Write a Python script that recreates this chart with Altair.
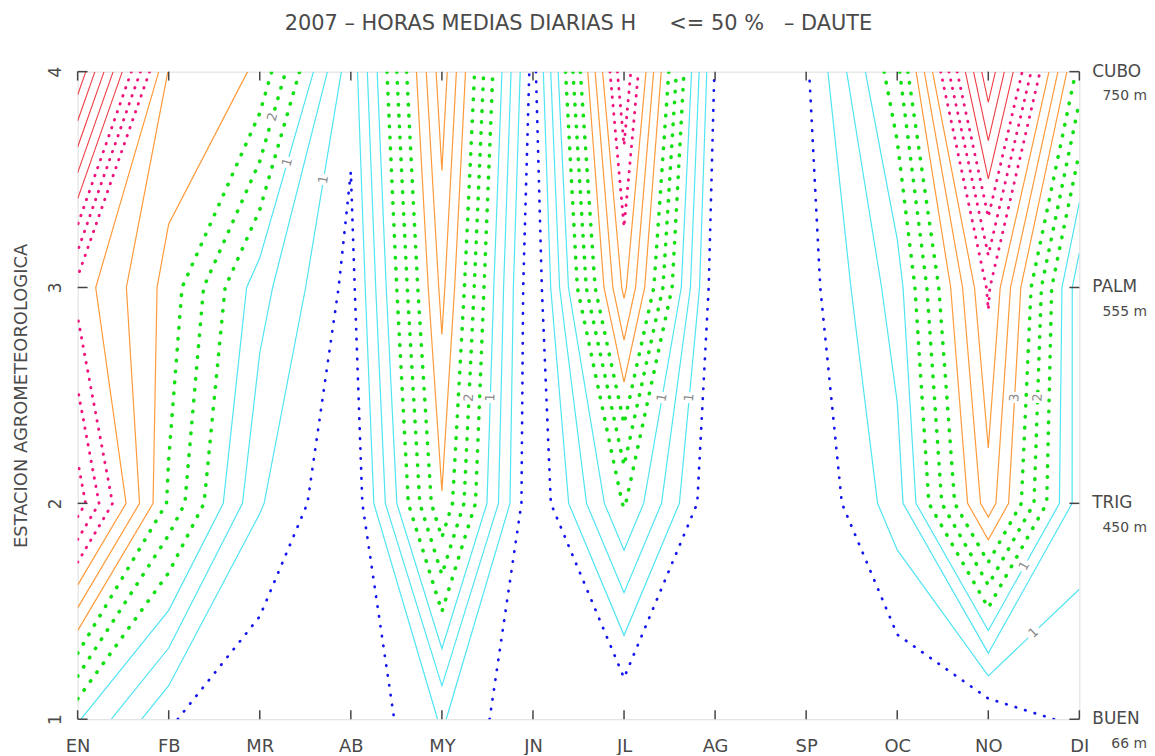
import math
import altair as alt
import pandas as pd

# ---------------- data ----------------
months = ["EN", "FB", "MR", "AB", "MY", "JN", "JL", "AG", "SP", "OC", "NO", "DI"]
stations = ["BUEN", "TRIG", "PALM", "CUBO"]
altitudes = ["66 m", "450 m", "555 m", "750 m"]

# mean daily hours with H <= 50 %, one list per station (rows y = 1..4), one value per month
h_buen = [1.37, 0.37, 0.00, 0.00, 0.70, 0.00, 0.01, 0.00, 0.00, 0.00, 0.03, 0.45]
h_trig = [4.53, 2.28, 0.70, 0.00, 2.64, 0.00, 1.70, 0.00, 0.00, 0.85, 3.20, 0.81]
h_palm = [3.53, 2.54, 1.13, 0.21, 3.10, 0.00, 3.42, 0.10, 0.18, 1.17, 3.72, 0.77]
h_cubo = [6.30, 2.97, 2.62, 0.44, 3.53, 0.20, 4.30, 0.30, 0.28, 1.90, 5.60, 2.20]

# contour levels: multiples of 1/3 hour
level_steps = list(range(1, 19))
level_interval = 1.0 / 3.0

# contour labels: (text, level step, y at which it sits, x near which it sits)
label_text = ["2", "1", "1", "2", "1", "1", "1", "3", "2", "1", "1"]
label_step = [6, 4, 2, 6, 4, 4, 2, 8, 6, 4, 2]
label_y = [3.79, 3.58, 3.50, 2.49, 2.49, 2.49, 2.49, 2.49, 2.49, 1.71, 1.40]
label_xnear = [3.13, 3.28, 3.67, 5.30, 5.52, 7.39, 7.71, 11.29, 11.54, 11.38, 11.51]

title_text = "2007 \u2013 HORAS MEDIAS DIARIAS H\u00a0\u00a0\u00a0\u00a0 <= 50 %\u00a0\u00a0 \u2013 DAUTE"

# ---------------- layout / style ----------------
W, H = 1007, 651
FONT = "DejaVu Sans, sans-serif"
TXT = "#4a4a4a"


def group_of(k):
    if k == 1:
        return "blue"
    if k <= 4:
        return "cyan"
    if k <= 7:
        return "green"
    if k <= 10:
        return "orange"
    if k <= 13:
        return "magenta"
    return "red"


styles = {
    "blue": dict(color="#1414ee", strokeWidth=2.7, strokeDash=[0.5, 9.5], strokeCap="round"),
    "cyan": dict(color="#4fe4f2", strokeWidth=1.2),
    "green": dict(color="#10e010", strokeWidth=3.6, strokeDash=[0.5, 10.5], strokeCap="round"),
    "orange": dict(color="#ff9a3a", strokeWidth=1.2),
    "magenta": dict(color="#f0157e", strokeWidth=2.9, strokeDash=[0.5, 8.0], strokeCap="round"),
    "red": dict(color="#ee3d44", strokeWidth=1.1),
}

# ---------------- contouring (marching squares, linear on edges) ----------------
Z = [h_buen, h_trig, h_palm, h_cubo]
NX, NY = len(months), len(stations)


def contour_segments(L):
    segs = []
    for j in range(NY - 1):
        for i in range(NX - 1):
            c = [(i, j), (i + 1, j), (i + 1, j + 1), (i, j + 1)]
            v = [Z[b][a] for a, b in c]
            ab = [val >= L for val in v]
            edges = [(0, 1, ("h", i, j)), (1, 2, ("v", i + 1, j)),
                     (3, 2, ("h", i, j + 1)), (0, 3, ("v", i, j))]
            crossed = {}
            for e, (a, b, key) in enumerate(edges):
                if ab[a] != ab[b]:
                    t = (L - v[a]) / (v[b] - v[a])
                    xa, ya = c[a]
                    xb, yb = c[b]
                    crossed[e] = (key, (xa + 1 + t * (xb - xa), ya + 1 + t * (yb - ya)))
            if len(crossed) == 2:
                e1, e2 = sorted(crossed)
                segs.append((crossed[e1], crossed[e2]))
            elif len(crossed) == 4:
                centre = (sum(v) / 4.0) >= L
                corner_edges = {0: (0, 3), 1: (0, 1), 2: (1, 2), 3: (2, 3)}
                for corner in range(4):
                    if ab[corner] != centre:
                        ea, eb = corner_edges[corner]
                        segs.append((crossed[ea], crossed[eb]))
    return segs


def chain(segs):
    adj, pts = {}, {}
    for idx, (s, e) in enumerate(segs):
        for key, p in (s, e):
            adj.setdefault(key, []).append(idx)
            pts[key] = p
    used = [False] * len(segs)

    def walk(start):
        line = [pts[start]]
        key = start
        while True:
            nxt = [s for s in adj[key] if not used[s]]
            if not nxt:
                break
            s = nxt[0]
            used[s] = True
            a, b = segs[s]
            other = b[0] if a[0] == key else a[0]
            line.append(pts[other])
            key = other
        return line

    lines = []
    for key in list(adj):
        if len(adj[key]) == 1 and not used[adj[key][0]]:
            lines.append(walk(key))
    for idx in range(len(segs)):
        if not used[idx]:
            lines.append(walk(segs[idx][0][0]))
    return lines


rows = []
lines_by_step = {}
for k in level_steps:
    L = k * level_interval
    lines = chain(contour_segments(L))
    lines_by_step[k] = lines
    for n, line in enumerate(lines):
        for o, (x, y) in enumerate(line):
            rows.append(dict(step=k, grp=group_of(k), lid=f"{k}_{n}", o=o, x=x, y=y))
lines_df = pd.DataFrame(rows)

# label positions: where the labelled contour crosses the given y
px_x = W / (NX - 1)
px_y = H / (NY - 1)
lab_rows = []
for txt, k, yv, xn in zip(label_text, label_step, label_y, label_xnear):
    best = None
    for line in lines_by_step[k]:
        for (x1, y1), (x2, y2) in zip(line[:-1], line[1:]):
            if (y1 - yv) * (y2 - yv) <= 0 and y1 != y2:
                t = (yv - y1) / (y2 - y1)
                xc = x1 + t * (x2 - x1)
                d = abs(xc - xn)
                if best is None or d < best[0]:
                    ang = math.degrees(math.atan2(-(y2 - y1) * px_y, (x2 - x1) * px_x))
                    if ang > 90:
                        ang -= 180
                    if ang <= -90:
                        ang += 180
                    best = (d, xc, ang % 360)
    if best is not None:
        lab_rows.append(dict(t=txt, x=best[1], y=yv, ang=best[2]))
labels_df = pd.DataFrame(lab_rows)

month_df = pd.DataFrame({"m": list(range(1, NX + 1)), "name": months})
station_df = pd.DataFrame({"s": list(range(1, NY + 1)), "name": stations, "alt": altitudes})
title_df = pd.DataFrame({"t": [title_text]})

xscale = alt.Scale(domain=[1, NX], nice=False, zero=False)
yscale = alt.Scale(domain=[1, NY], nice=False, zero=False)

month_expr = "[" + ",".join(f"'{m}'" for m in months) + "][datum.value - 1]"

x_axis = alt.Axis(values=list(range(1, NX + 1)), labelExpr=month_expr, ticks=False, domain=False,
                  grid=False, labelFontSize=18, labelFont=FONT, labelColor=TXT, labelPadding=18,
                  title=None, labelFlush=False)
y_axis = alt.Axis(values=list(range(1, NY + 1)), format="d", ticks=False, domain=False, grid=False,
                  labelFontSize=17, labelFont=FONT, labelColor=TXT, labelAngle=270,
                  labelAlign="center", labelBaseline="bottom", labelPadding=13, labelFlush=False,
                  title="ESTACION AGROMETEOROLOGICA", titleFont=FONT, titleFontSize=18,
                  titleFontWeight="normal", titleColor=TXT, titleAngle=270,
                  titleX=-56, titleY=H / 2, titleAlign="center", titleBaseline="middle")


def X(field):
    return alt.X(field, scale=xscale, axis=x_axis)


def Y(field):
    return alt.Y(field, scale=yscale, axis=y_axis)


layers = []
for g in ["blue", "cyan", "green", "orange", "magenta", "red"]:
    st = styles[g]
    mk = dict(color=st["color"], strokeWidth=st["strokeWidth"], clip=True)
    if "strokeDash" in st:
        mk["strokeDash"] = st["strokeDash"]
        mk["strokeCap"] = st["strokeCap"]
    lyr = alt.Chart(lines_df).transform_filter(alt.datum.grp == g).mark_line(**mk).encode(
        x=X("x:Q"), y=Y("y:Q"), detail="lid:N", order="o:Q")
    layers.append(lyr)

# label gaps and labels
gaps = alt.Chart(labels_df).mark_square(size=120, color="white", opacity=1, filled=True,
                                        strokeWidth=0).encode(x=X("x:Q"), y=Y("y:Q"))
labs = alt.Chart(labels_df).mark_text(fontSize=13, font=FONT, color="#8a8a8a", baseline="middle",
                                      align="center").encode(
    x=X("x:Q"), y=Y("y:Q"), text="t:N", angle=alt.Angle("ang:Q", scale=None))

# inner ticks
tick_style = dict(color="#444444", strokeWidth=1.5)
t_bottom = alt.Chart(month_df).mark_rule(**tick_style).encode(
    x=X("m:Q"), y=alt.value(H), y2=alt.value(H - 9))
t_top = alt.Chart(month_df).mark_rule(**tick_style).encode(
    x=X("m:Q"), y=alt.value(0), y2=alt.value(9))
t_left = alt.Chart(station_df).mark_rule(**tick_style).encode(
    y=Y("s:Q"), x=alt.value(0), x2=alt.value(10))
t_right = alt.Chart(station_df).mark_rule(**tick_style).encode(
    y=Y("s:Q"), x=alt.value(W - 10), x2=alt.value(W))

# right-hand station names and altitudes
st_names = alt.Chart(station_df).mark_text(fontSize=17, font=FONT, color=TXT, align="left",
                                           baseline="middle", dx=13).encode(
    y=Y("s:Q"), x=alt.value(W), text="name:N")
st_alt = alt.Chart(station_df).mark_text(fontSize=14, font=FONT, color=TXT, align="right",
                                         baseline="middle", dy=25).encode(
    y=Y("s:Q"), x=alt.value(W + 68), text="alt:N")

# title
title_mark = alt.Chart(title_df).mark_text(fontSize=21, font=FONT, color=TXT, align="center",
                                           baseline="middle").encode(
    x=alt.value(W / 2), y=alt.value(-48), text="t:N")

chart = alt.layer(*layers, gaps, labs, t_bottom, t_top, t_left, t_right, st_names, st_alt,
                  title_mark).properties(
    width=W, height=H,
    autosize=alt.AutoSizeParams(type="none"),
    padding={"left": 70, "top": 62, "right": 68, "bottom": 34},
).configure_view(stroke="#444444", strokeWidth=1.5).configure(background="white")

chart.save("out.html", embed_options={"renderer": "svg", "actions": False})
